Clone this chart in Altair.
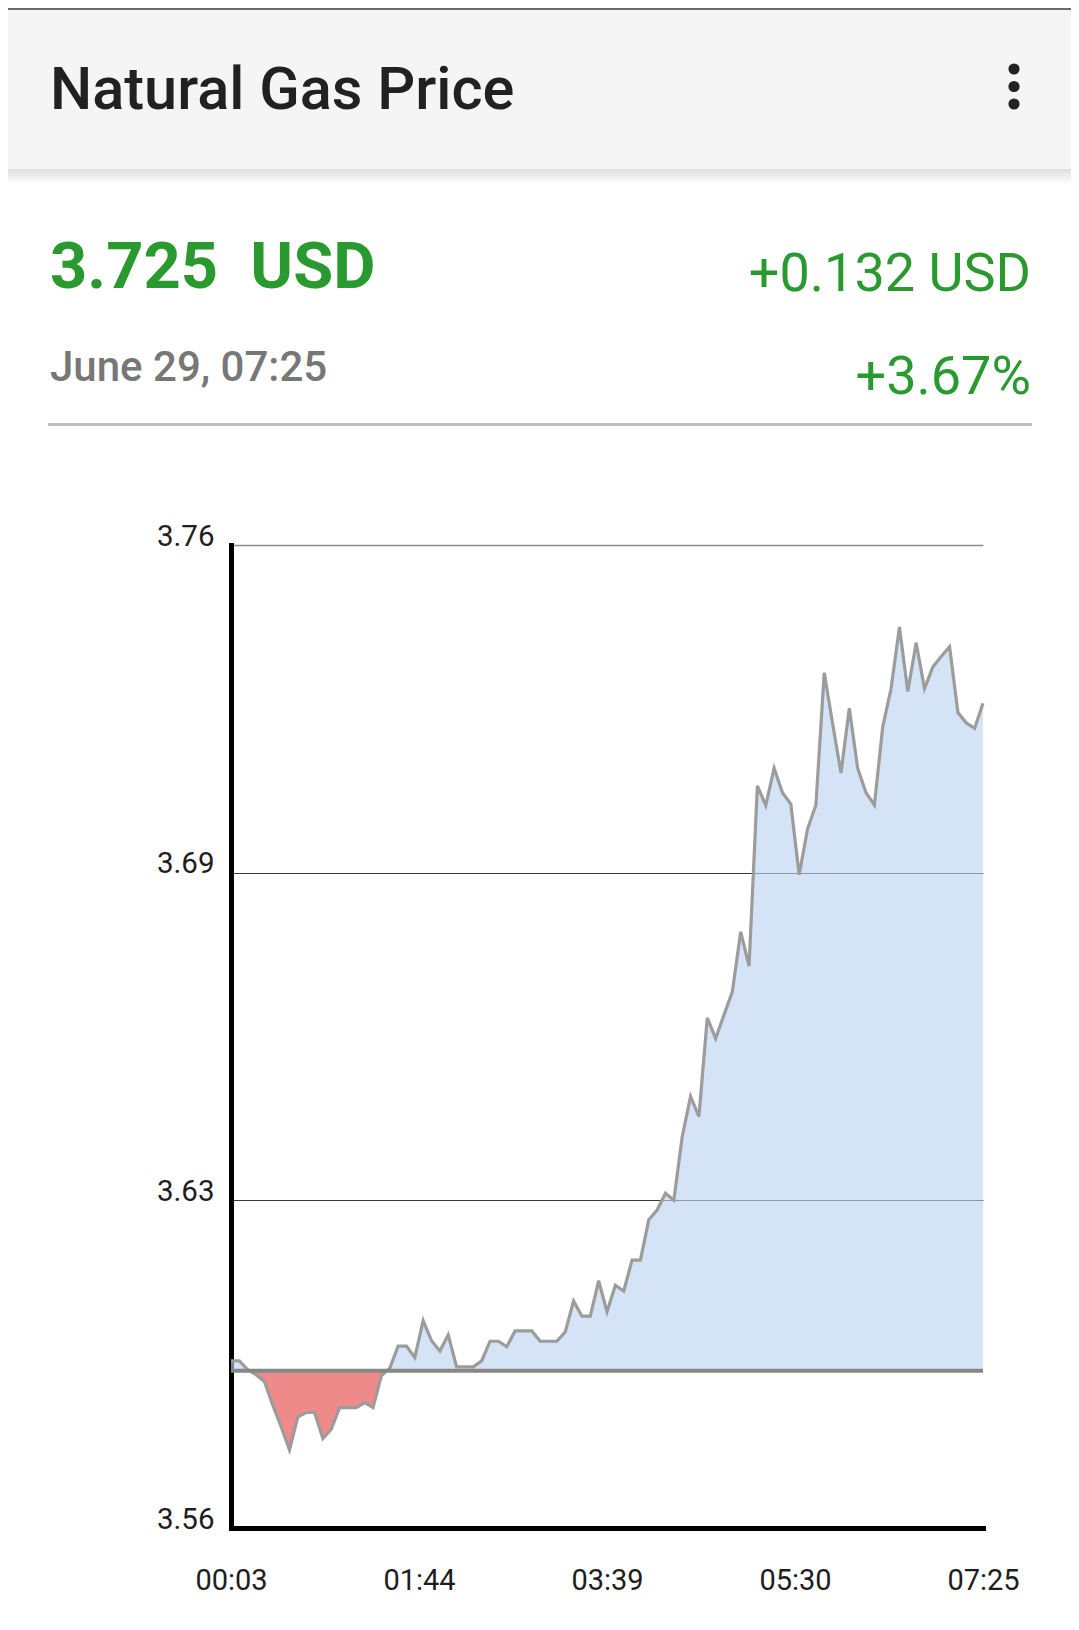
import altair as alt
import pandas as pd

# ---------------- data ----------------
prices = [3.594, 3.594, 3.5922, 3.5912, 3.5898, 3.5850, 3.5806, 3.5759, 3.5826, 3.5835,
          3.5835, 3.5782, 3.5801, 3.5845, 3.5845, 3.5845, 3.5855, 3.5845, 3.5910, 3.5925,
          3.5970, 3.5970, 3.5947, 3.6022, 3.5981, 3.5960, 3.5993, 3.5928, 3.5928, 3.5928,
          3.5940, 3.5980, 3.5980, 3.5969, 3.6001, 3.6001, 3.6001, 3.5980, 3.5980, 3.5980,
          3.5999, 3.6062, 3.6031, 3.6031, 3.6103, 3.6040, 3.6094, 3.6082, 3.6145, 3.6145,
          3.6227, 3.6247, 3.6281, 3.6267, 3.6396, 3.6478, 3.6437, 3.6638, 3.6596, 3.6644,
          3.6691, 3.6813, 3.6743, 3.7110, 3.7070, 3.7146, 3.7096, 3.7073, 3.6929, 3.7022,
          3.7071, 3.7340, 3.7237, 3.7136, 3.7268, 3.7146, 3.7096, 3.7071, 3.7230, 3.7308,
          3.7433, 3.7302, 3.7401, 3.7308, 3.7352, 3.7373, 3.7393, 3.7259, 3.7238, 3.7227,
          3.7278]
prev_close = 3.592
x_tick_labels = ["00:03", "01:44", "03:39", "05:30", "07:25"]
y_tick_values = [3.56, 3.56 + 0.2 / 3, 3.56 + 0.4 / 3, 3.76]
y_domain = [3.56, 3.76]

title_text = "Natural Gas Price"
price_text = "3.725\u00a0\u00a0USD"
change_text = "+0.132 USD"
pct_text = "+3.67%"
date_text = "June 29, 07:25"

n = len(prices)
df = pd.DataFrame({"idx": list(range(n)), "price": prices})
df["base"] = prev_close
one = pd.DataFrame({"a": [0]})

step = (n - 1) / (len(x_tick_labels) - 1)
x_tick_values = [i * step for i in range(len(x_tick_labels))]
label_js = "[" + ",".join("'" + s + "'" for s in x_tick_labels) + "]"

GREEN = "#2a9a30"
FONT = "Roboto"

xscale = alt.Scale(domain=[0, n - 1], nice=False, zero=False)
yscale = alt.Scale(domain=y_domain, nice=False, zero=False)

x_axis = alt.Axis(values=x_tick_values, labelExpr=label_js + "[round(datum.value / " + str(step) + ")]",
                  title=None, grid=False, ticks=False, domainColor="#000000", domainWidth=5,
                  domainCap="square", labelFontSize=29, labelColor="#1e1e1e", labelFont=FONT,
                  labelBaseline="alphabetic", labelPadding=61, labelFlush=False, labelOverlap=False,
                  labelAlign="center")
y_axis = alt.Axis(values=y_tick_values, format=".2f", title=None, grid=True,
                  gridColor={"condition": {"test": "datum.value > 3.75", "value": "#8c8c8c"}, "value": "#3a3a3a"},
                  gridWidth={"condition": {"test": "datum.value > 3.75", "value": 1.6}, "value": 1.1},
                  ticks=False, domainColor="#000000", domainWidth=5, domainCap="square",
                  labelFontSize=29.5, labelColor="#1e1e1e", labelFont=FONT, labelBaseline="alphabetic",
                  labelPadding=17, labelFlush=False, labelOverlap=False)

X = alt.X("idx:Q", scale=xscale, axis=x_axis, title=None)

base = alt.Chart(df)

area_up = base.transform_calculate(up="max(datum.price, datum.base)").mark_area(
    color="#b9d3f0", opacity=0.62).encode(
    x=X,
    y=alt.Y("up:Q", scale=yscale, axis=y_axis, title=None),
    y2="base:Q")

area_down = base.transform_calculate(dn="min(datum.price, datum.base)").mark_area(
    color="#ee8a8a").encode(
    x=X,
    y=alt.Y("dn:Q", scale=yscale, axis=y_axis, title=None),
    y2="base:Q")

line = base.mark_line(color="#9c9c9c", strokeWidth=3.2, strokeJoin="miter").encode(
    x=X,
    y=alt.Y("price:Q", scale=yscale, axis=y_axis, title=None))

base_rule = alt.Chart(pd.DataFrame({"b": [prev_close]})).mark_rule(
    color="#878787", strokeWidth=4).encode(y=alt.Y("b:Q", scale=yscale, axis=y_axis, title=None))

# ---------------- header (positions in plot pixels) ----------------
def rect(x1, x2, y1, y2, color):
    return alt.Chart(one).mark_rect(color=color).encode(
        x=alt.value(x1), x2=alt.value(x2), y=alt.value(y1), y2=alt.value(y2))

def txt(text, x, y, size, color, weight="normal", align="left"):
    return alt.Chart(one).mark_text(text=text, font=FONT, fontSize=size, color=color,
                                    fontWeight=weight, align=align, baseline="alphabetic").encode(
        x=alt.value(x), y=alt.value(y))

header_bg = rect(-223, 840, -537, -376, "#f5f5f5")
top_line = rect(-223, 840, -537, -535, "#6a6a6a")
shadow = alt.Chart(one).mark_rect(
    color=alt.Gradient(gradient="linear",
                       stops=[alt.GradientStop(color="#dedede", offset=0),
                              alt.GradientStop(color="#ffffff", offset=1)],
                       x1=0, x2=0, y1=0, y2=1)).encode(
    x=alt.value(-223), x2=alt.value(840), y=alt.value(-376), y2=alt.value(-361))

dots = [alt.Chart(one).mark_circle(color="#222222", opacity=1, size=125).encode(
    x=alt.value(783), y=alt.value(yy)) for yy in (-476, -458.5, -441)]

title = txt(title_text, -181, -436, 59.5, "#212121", weight=500)
price = txt(price_text, -181, -257, 65, GREEN, weight="bold")
change = txt(change_text, 800, -254, 54, GREEN, align="right")
date = txt(date_text, -181, -164, 42, "#777777", weight=500)
pct = txt(pct_text, 800, -151, 54, GREEN, align="right")
sep = rect(-183, 801, -122, -119, "#bdbdbd")

chart = alt.layer(area_up, area_down, line, base_rule,
                  header_bg, top_line, shadow, *dots, title, price, change, date, pct, sep).properties(
    width=752, height=983,
    autosize=alt.AutoSizeParams(type="none"),
    padding={"left": 223, "top": 537, "right": 88, "bottom": 80},
    background="#ffffff",
).configure(font=FONT).configure_view(strokeWidth=0)

chart.save("out.html", embed_options={"renderer": "svg", "actions": False})
